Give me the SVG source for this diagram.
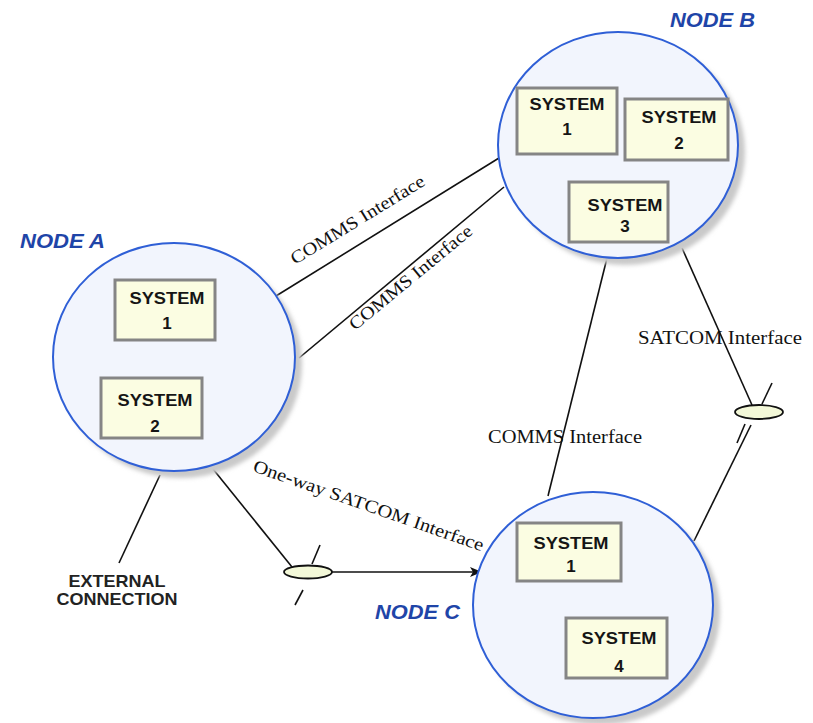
<svg xmlns="http://www.w3.org/2000/svg" width="813" height="723" viewBox="0 0 813 723">
<style>
.shadow{fill:#c9c9c9}
.node{fill:#f2f5fd;stroke:#2f5fd6;stroke-width:2}
.sys{fill:#fbfde2;stroke:#858585;stroke-width:3}
.st{font-family:"Liberation Sans",Arial,sans-serif;font-weight:bold;font-size:17px;fill:#151515;text-anchor:middle}
.nl{font-family:"Liberation Sans",Arial,sans-serif;font-weight:bold;font-style:italic;font-size:21px;fill:#1f45a8}
.lbl{font-family:"Liberation Serif","Times New Roman",serif;font-size:18px;fill:#111}
.ext{font-family:"Liberation Sans",Arial,sans-serif;font-weight:bold;font-size:17px;fill:#222;text-anchor:middle}
.ln{stroke:#111;stroke-width:1.6;fill:none}
.oval{fill:#f3f8d8;stroke:#111;stroke-width:1.8}
</style>
<defs>
<filter id="blur" x="-10%" y="-10%" width="120%" height="120%"><feGaussianBlur stdDeviation="2"/></filter>
<marker id="arr" markerWidth="12" markerHeight="10" refX="11" refY="5" orient="auto" markerUnits="userSpaceOnUse">
<path d="M0,0 L12,5 L0,10 L3,5 z" fill="#111"/>
</marker>
</defs>

<g id="connectors">
<line class="ln" x1="276" y1="296" x2="499" y2="158"/>
<line class="ln" x1="299" y1="358" x2="504" y2="187"/>
<line class="ln" x1="607" y1="258" x2="548" y2="496"/>
<line class="ln" x1="682" y1="248" x2="752" y2="405"/>
<line class="ln" x1="762" y1="404" x2="772" y2="383"/>
<line class="ln" x1="751" y1="425" x2="694" y2="541"/>
<line class="ln" x1="745" y1="424" x2="737" y2="443"/>
<line class="ln" x1="213" y1="469" x2="292" y2="567"/>
<line class="ln" x1="312" y1="564" x2="320" y2="545"/>
<line class="ln" x1="303" y1="590" x2="295" y2="605"/>
<line class="ln" x1="332" y1="572" x2="481" y2="572" marker-end="url(#arr)"/>
<line class="ln" x1="160" y1="475" x2="119" y2="563"/>
<ellipse class="oval" cx="308" cy="572" rx="24" ry="6.5"/>
<ellipse class="oval" cx="759" cy="412" rx="24" ry="7"/>
<text class="lbl" transform="translate(295,265) rotate(-31.5)" textLength="154" lengthAdjust="spacingAndGlyphs">COMMS Interface</text>
<text class="lbl" transform="translate(355,331) rotate(-39.5)" textLength="154" lengthAdjust="spacingAndGlyphs">COMMS Interface</text>
<text class="lbl" x="488" y="443" textLength="154" lengthAdjust="spacingAndGlyphs">COMMS Interface</text>
<text class="lbl" x="638" y="344" textLength="164" lengthAdjust="spacingAndGlyphs">SATCOM Interface</text>
<text class="lbl" transform="translate(252,471) rotate(19.3)" textLength="243" lengthAdjust="spacingAndGlyphs">One-way SATCOM Interface</text>
<text class="ext" x="117" y="587" textLength="97" lengthAdjust="spacingAndGlyphs">EXTERNAL</text>
<text class="ext" x="117" y="605" textLength="121" lengthAdjust="spacingAndGlyphs">CONNECTION</text>
</g>

<g id="nodeA">
<ellipse class="shadow" cx="181" cy="364" rx="121" ry="114" filter="url(#blur)"/>
<ellipse class="node" cx="174" cy="357" rx="121" ry="114"/>
<text class="nl" x="20" y="248" textLength="85" lengthAdjust="spacingAndGlyphs">NODE A</text>
</g>
<g id="nodeA-system1">
<rect class="sys" x="115" y="280" width="100" height="60"/>
<text class="st" x="167" y="304" textLength="75" lengthAdjust="spacingAndGlyphs">SYSTEM</text>
<text class="st" x="167" y="329">1</text>
</g>
<g id="nodeA-system2">
<rect class="sys" x="101" y="378" width="101" height="60"/>
<text class="st" x="155" y="406" textLength="75" lengthAdjust="spacingAndGlyphs">SYSTEM</text>
<text class="st" x="155" y="432">2</text>
</g>

<g id="nodeB">
<ellipse class="shadow" cx="625" cy="152" rx="120" ry="113" filter="url(#blur)"/>
<ellipse class="node" cx="618" cy="145" rx="120" ry="113"/>
<text class="nl" x="670" y="27" textLength="85" lengthAdjust="spacingAndGlyphs">NODE B</text>
</g>
<g id="nodeB-system1">
<rect class="sys" x="517" y="88" width="100" height="66"/>
<text class="st" x="567" y="110" textLength="75" lengthAdjust="spacingAndGlyphs">SYSTEM</text>
<text class="st" x="567" y="135">1</text>
</g>
<g id="nodeB-system2">
<rect class="sys" x="625" y="99" width="103" height="61"/>
<text class="st" x="679" y="123" textLength="75" lengthAdjust="spacingAndGlyphs">SYSTEM</text>
<text class="st" x="679" y="149">2</text>
</g>
<g id="nodeB-system3">
<rect class="sys" x="569" y="182" width="99" height="60"/>
<text class="st" x="625" y="211" textLength="75" lengthAdjust="spacingAndGlyphs">SYSTEM</text>
<text class="st" x="625" y="232">3</text>
</g>

<g id="nodeC">
<ellipse class="shadow" cx="600" cy="612" rx="120" ry="113" filter="url(#blur)"/>
<ellipse class="node" cx="593" cy="605" rx="120" ry="113"/>
<text class="nl" x="375" y="619" textLength="85" lengthAdjust="spacingAndGlyphs">NODE C</text>
</g>
<g id="nodeC-system1">
<rect class="sys" x="517" y="523" width="104" height="58"/>
<text class="st" x="571" y="549" textLength="75" lengthAdjust="spacingAndGlyphs">SYSTEM</text>
<text class="st" x="571" y="572">1</text>
</g>
<g id="nodeC-system4">
<rect class="sys" x="566" y="618" width="101" height="60"/>
<text class="st" x="619" y="644" textLength="75" lengthAdjust="spacingAndGlyphs">SYSTEM</text>
<text class="st" x="619" y="672">4</text>
</g>
</svg>
